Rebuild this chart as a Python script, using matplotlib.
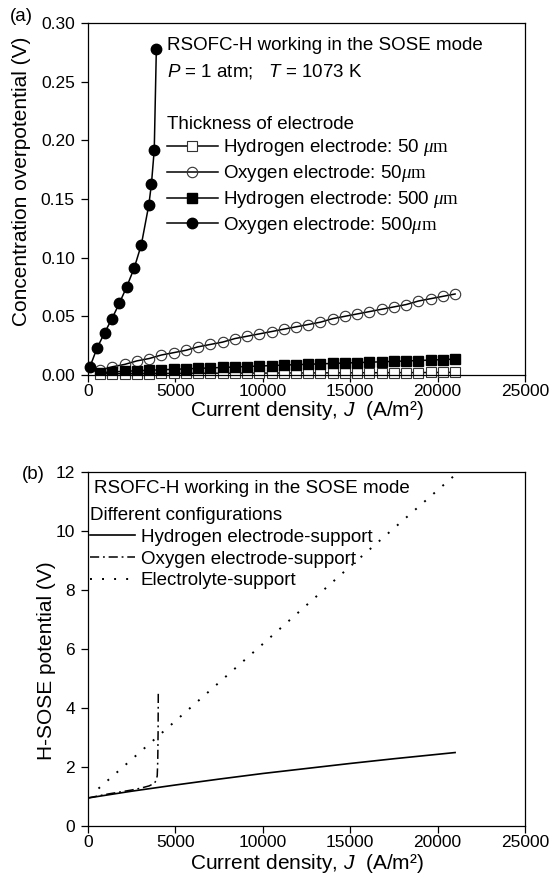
import matplotlib
matplotlib.use("Agg")
import matplotlib.pyplot as plt

plt.rcParams['font.family'] = ['Liberation Sans', 'DejaVu Sans']
plt.rcParams['mathtext.fontset'] = 'custom'
plt.rcParams['mathtext.rm'] = 'Liberation Serif'
plt.rcParams['mathtext.it'] = 'Liberation Serif:italic'
plt.rcParams['mathtext.sf'] = 'Liberation Sans:italic'

# ---------------- data: panel (a) ----------------
j_o500 = [100, 520, 950, 1370, 1790, 2210, 2640, 3050, 3480, 3630, 3790, 3910]
eta_o500 = [0.0065, 0.023, 0.036, 0.048, 0.061, 0.075, 0.091, 0.111, 0.145, 0.163, 0.192, 0.278]

j_grid = [700, 1400, 2100, 2800, 3500, 4200, 4900, 5600, 6300, 7000,
          7700, 8400, 9100, 9800, 10500, 11200, 11900, 12600, 13300, 14000,
          14700, 15400, 16100, 16800, 17500, 18200, 18900, 19600, 20300, 21000]
eta_o50 = [0.004, 0.007, 0.009, 0.012, 0.014, 0.017, 0.019, 0.021, 0.024, 0.026,
           0.028, 0.031, 0.033, 0.035, 0.037, 0.039, 0.041, 0.043, 0.045, 0.048,
           0.050, 0.052, 0.054, 0.056, 0.058, 0.060, 0.063, 0.065, 0.067, 0.069]
eta_h500 = [0.0020, 0.0026, 0.0031, 0.0036, 0.0040, 0.0044, 0.0048, 0.0052, 0.0056, 0.0060,
            0.0064, 0.0068, 0.0072, 0.0076, 0.0080, 0.0084, 0.0088, 0.0091, 0.0095, 0.0098,
            0.0102, 0.0105, 0.0109, 0.0112, 0.0116, 0.0119, 0.0123, 0.0127, 0.0131, 0.0135]
eta_h50 = [0.0010, 0.0011, 0.0011, 0.0012, 0.0012, 0.0013, 0.0013, 0.0014, 0.0014, 0.0015,
           0.0015, 0.0015, 0.0016, 0.0016, 0.0016, 0.0017, 0.0017, 0.0017, 0.0018, 0.0018,
           0.0018, 0.0019, 0.0019, 0.0019, 0.0020, 0.0020, 0.0020, 0.0021, 0.0021, 0.0022]

labels_a = ["Hydrogen electrode: 50 $\\mu\\mathrm{m}$",
            "Oxygen electrode: 50$\\mu\\mathrm{m}$",
            "Hydrogen electrode: 500 $\\mu\\mathrm{m}$",
            "Oxygen electrode: 500$\\mu\\mathrm{m}$"]

# ---------------- data: panel (b) ----------------
j_hsup = [0, 2500, 5000, 7500, 10000, 12500, 15000, 17500, 21000]
v_hsup = [0.95, 1.18, 1.39, 1.59, 1.78, 1.95, 2.12, 2.28, 2.49]

j_osup = [0, 500, 1000, 1500, 2000, 2500, 3000, 3500, 3800, 3900, 3960, 3990, 4010, 4020]
v_osup = [0.95, 1.01, 1.07, 1.12, 1.17, 1.22, 1.28, 1.36, 1.45, 1.55, 1.70, 2.20, 3.20, 4.50]

j_esup = [600, 5000, 10000, 15000, 21000]
v_esup = [1.27, 3.56, 6.17, 8.80, 11.90]

labels_b = ["Hydrogen electrode-support", "Oxygen electrode-support", "Electrolyte-support"]

xticks = [0, 5000, 10000, 15000, 20000, 25000]

fig = plt.figure(figsize=(5.49, 8.90), dpi=100)
ax1 = fig.add_axes([0.1603, 0.5787, 0.796, 0.3955])
ax2 = fig.add_axes([0.1603, 0.0719, 0.796, 0.3978])

tick_fs = 12.5
lab_fs = 15
txt_fs = 13.5

for ax in (ax1, ax2):
    ax.set_xlim(0, 25000)
    ax.set_xticks(xticks)
    ax.tick_params(direction='out', length=5, width=0.9, labelsize=tick_fs,
                   top=False, right=False)
    ax.tick_params(axis='x', pad=1.5)
    ax.tick_params(axis='y', pad=4.5)
    for s in ax.spines.values():
        s.set_linewidth(0.9)

ax1.set_xlabel("Current density, $\\mathsf{J}$  (A/m²)", fontsize=lab_fs, labelpad=0)
ax2.set_xlabel("Current density, $\\mathsf{J}$  (A/m²)", fontsize=lab_fs, labelpad=1.5)

# panel (a)
ax1.set_ylim(0, 0.30)
ax1.set_yticks([0.00, 0.05, 0.10, 0.15, 0.20, 0.25, 0.30])
ax1.set_yticklabels(["0.00", "0.05", "0.10", "0.15", "0.20", "0.25", "0.30"])
ax1.set_ylabel("Concentration overpotential (V)", fontsize=lab_fs)
ax1.yaxis.set_label_coords(-0.131, 0.55)

lw = 1.1
h1, = ax1.plot(j_grid, eta_h50, '-', color='black', lw=lw, marker='s', ms=6.5,
               mfc='white', mec='#333333', mew=0.8, clip_on=False, zorder=2)
h2, = ax1.plot(j_grid, eta_o50, '-', color='black', lw=lw, marker='o', ms=7.5,
               mfc='none', mec='#333333', mew=0.8, zorder=3)
h3, = ax1.plot(j_grid, eta_h500, '-', color='black', lw=lw, marker='s', ms=6.5,
               mfc='black', mec='black', zorder=4)
h4, = ax1.plot(j_o500, eta_o500, '-', color='black', lw=lw, marker='o', ms=7.5,
               mfc='black', mec='black', zorder=5, clip_on=False)

ax1.text(0.181, 0.936, "RSOFC-H working in the SOSE mode", transform=ax1.transAxes,
         fontsize=txt_fs, va='center', ha='left')
ax1.text(0.181, 0.863, "$\\mathsf{P}$ = 1 atm;   $\\mathsf{T}$ = 1073 K", transform=ax1.transAxes,
         fontsize=txt_fs, va='center', ha='left')
leg1 = ax1.legend([h1, h2, h3, h4], labels_a, loc='upper left',
                  bbox_to_anchor=(0.181, 0.737), frameon=False, fontsize=txt_fs,
                  title="Thickness of electrode", title_fontsize=txt_fs,
                  alignment='left', handlelength=2.7, handletextpad=0.3,
                  labelspacing=0.26, borderaxespad=0, borderpad=0)
ax1.text(-0.178, 1.017, "(a)", transform=ax1.transAxes, fontsize=13.5,
         va='center', ha='left')

# panel (b)
ax2.set_ylim(0, 12)
ax2.set_yticks([0, 2, 4, 6, 8, 10, 12])
ax2.set_ylabel("H-SOSE potential (V)", fontsize=lab_fs)
ax2.yaxis.set_label_coords(-0.073, 0.468)

g1, = ax2.plot(j_hsup, v_hsup, '-', color='black', lw=1.2)
g2, = ax2.plot(j_osup, v_osup, color='black', lw=1.1, linestyle=(0, (6, 2.5, 1.2, 2.5)))
g3, = ax2.plot(j_esup, v_esup, color='black', lw=1.4, linestyle=(0, (1, 5.2)))

ax2.text(0.013, 0.952, "RSOFC-H working in the SOSE mode", transform=ax2.transAxes,
         fontsize=txt_fs, va='center', ha='left')
leg2 = ax2.legend([g1, g2, g3], labels_b, loc='upper left',
                  bbox_to_anchor=(0.005, 0.901), frameon=False, fontsize=txt_fs,
                  title="Different configurations", title_fontsize=txt_fs,
                  alignment='left', handlelength=2.4, handletextpad=0.3,
                  labelspacing=0.25, borderaxespad=0, borderpad=0)
ax2.text(-0.151, 0.994, "(b)", transform=ax2.transAxes, fontsize=13.5,
         va='center', ha='left')

fig.savefig("out.png", dpi=100)
